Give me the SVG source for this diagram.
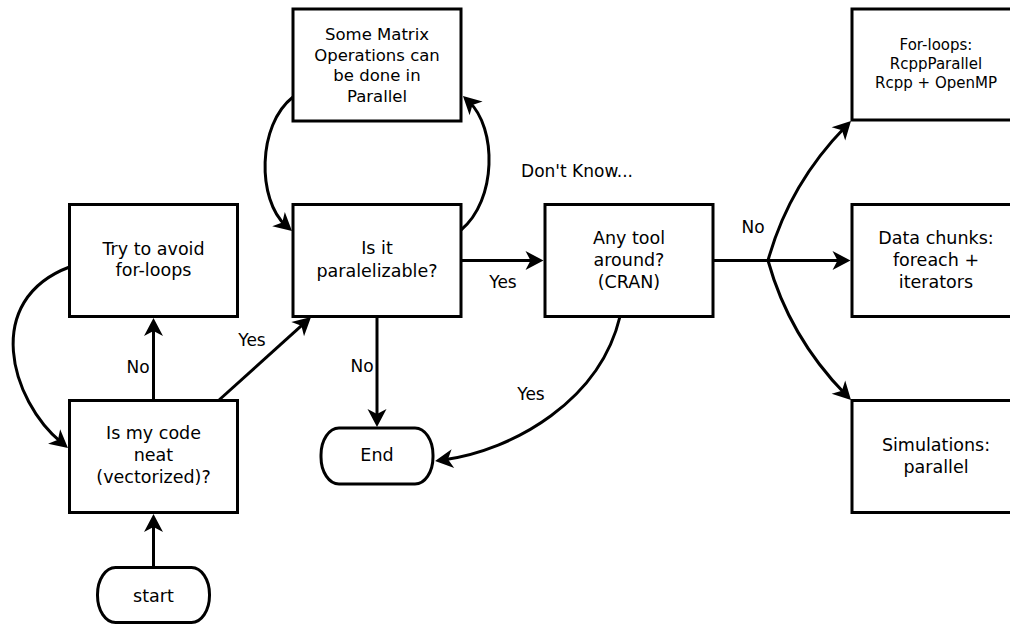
<svg xmlns="http://www.w3.org/2000/svg" width="1010" height="624" viewBox="0 0 1010 624">
<style>
.box{fill:#fff;stroke:#000;stroke-width:3}
.t{font-family:"DejaVu Sans",sans-serif;font-size:17.5px;text-anchor:middle;fill:#000}
.s{font-size:16.5px}
.f{font-size:15px}
.lbl{font-family:"DejaVu Sans",sans-serif;font-size:17px;text-anchor:middle;fill:#000}
.c{fill:none;stroke:#000;stroke-width:3;marker-end:url(#ah)}
.n{fill:none;stroke:#000;stroke-width:3}
</style>
<defs>
<marker id="ah" markerUnits="userSpaceOnUse" markerWidth="40" markerHeight="40" viewBox="-20 -20 40 40" refX="0" refY="0" orient="auto" overflow="visible">
<path d="M8,0 L-10,-9.5 L-5,0 L-10,9.5 Z" fill="#000"/>
</marker>
</defs>
<rect width="1010" height="624" fill="#fff"/>
<g id="connectors">
<path class="c" d="M153.5,567.5 V522"/>
<path class="c" d="M153.5,400.5 V326"/>
<path class="c" d="M69.5,267 C-18,300 10,400 61.8,442.9"/>
<path class="c" d="M218.5,400.5 L305.1,322.4"/>
<path class="c" d="M461,230 C497,200 497,128 468.8,101.5"/>
<path class="c" d="M293,97 C257,125 257,200 286,225.7"/>
<path class="c" d="M461,260.5 H535.5"/>
<path class="c" d="M377,316.5 V419"/>
<path class="c" d="M620,316.5 C600,400 515,450 443,460"/>
<path class="n" d="M713,260.5 H768"/>
<path class="c" d="M768,260.5 H842.5"/>
<path class="c" d="M768,260.5 C782,210 808,165 845.4,126.7"/>
<path class="c" d="M768,260.5 C782,311 808,356 845.4,394.3"/>
<text class="lbl" x="138" y="373">No</text>
<text class="lbl" x="252" y="346">Yes</text>
<text class="lbl" x="362" y="372">No</text>
<text class="lbl" x="503" y="288">Yes</text>
<text class="lbl" x="531" y="400">Yes</text>
<text class="lbl" x="577" y="177">Don't Know...</text>
<text class="lbl" x="753" y="233">No</text>
</g>
<g id="start">
<rect class="box" x="97.5" y="567.5" width="112" height="55" rx="18" ry="27"/>
<text class="t" x="153.5" y="602">start</text>
</g>
<g id="neat">
<rect class="box" x="69.5" y="400.5" width="168" height="112"/>
<text class="t" x="153.5" y="439">Is my code</text>
<text class="t" x="153.5" y="461">neat</text>
<text class="t" x="153.5" y="483">(vectorized)?</text>
</g>
<g id="avoid">
<rect class="box" x="69.5" y="204.5" width="168" height="112"/>
<text class="t" x="153.5" y="255">Try to avoid</text>
<text class="t" x="153.5" y="276">for-loops</text>
</g>
<g id="paral">
<rect class="box" x="293" y="204.5" width="168" height="112"/>
<text class="t" x="377" y="254">Is it</text>
<text class="t" x="377" y="277">paralelizable?</text>
</g>
<g id="matrix">
<rect class="box" x="293" y="9" width="168" height="112"/>
<text class="t s" x="377" y="40">Some Matrix</text>
<text class="t s" x="377" y="60.5">Operations can</text>
<text class="t s" x="377" y="81">be done in</text>
<text class="t s" x="377" y="101.5">Parallel</text>
</g>
<g id="end">
<rect class="box" x="321" y="428" width="112" height="56" rx="18" ry="27"/>
<text class="t" x="377" y="461">End</text>
</g>
<g id="tool">
<rect class="box" x="545" y="204.5" width="168" height="112"/>
<text class="t" x="629" y="244">Any tool</text>
<text class="t" x="629" y="266">around?</text>
<text class="t" x="629" y="288">(CRAN)</text>
</g>
<g id="forloops">
<rect class="box" x="852" y="9" width="168" height="111"/>
<text class="t f" x="936" y="50">For-loops:</text>
<text class="t f" x="936" y="69">RcppParallel</text>
<text class="t f" x="936" y="88">Rcpp + OpenMP</text>
</g>
<g id="chunks">
<rect class="box" x="852" y="204.5" width="168" height="112"/>
<text class="t" x="936" y="244">Data chunks:</text>
<text class="t" x="936" y="266">foreach +</text>
<text class="t" x="936" y="288">iterators</text>
</g>
<g id="sims">
<rect class="box" x="852" y="400.5" width="168" height="112"/>
<text class="t" x="936" y="451">Simulations:</text>
<text class="t" x="936" y="473">parallel</text>
</g>
</svg>
